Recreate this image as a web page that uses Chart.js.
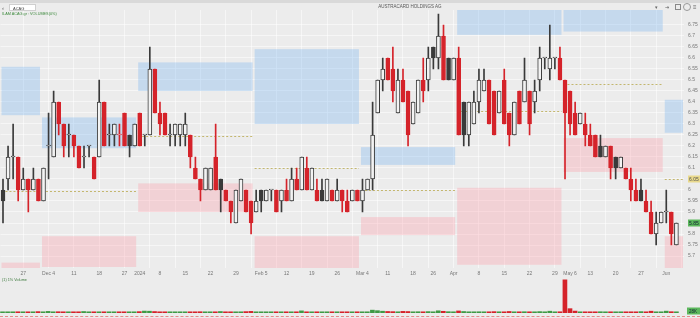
<!DOCTYPE html>
<html>
<head>
<meta charset="utf-8">
<script src="https://cdn.jsdelivr.net/npm/chart.js@4.4.1/dist/chart.umd.min.js"></script>
<style>
body{margin:0;width:700px;height:318px;background:#ececec;overflow:hidden;font-family:"Liberation Sans",Arial,sans-serif;position:relative}
canvas{position:absolute;left:0}
#price{top:0}
#vol{top:276px}
.t{position:absolute;white-space:nowrap;line-height:1}
</style>
</head>
<body>
<canvas id="price" width="700" height="280"></canvas>
<canvas id="vol" width="700" height="42"></canvas>

<div class="t" style="top:0;left:0;width:700px;height:3px;background:#d9d9d9"></div>
<div class="t" style="top:5px;left:2px;font-size:6px;color:#555">&lsaquo;</div>
<div class="t" style="top:4px;left:9px;width:27px;height:7px;background:#fff;border:1px solid #cfcfcf;font-size:4px;color:#444;padding:2px 0 0 3px;box-sizing:border-box">ACAG</div>
<div class="t" style="top:5px;left:350px;width:120px;text-align:center;font-size:4.5px;color:#555">AUSTRACARD HOLDINGS AG</div>
<div class="t" style="top:5px;left:655px;font-size:5px;color:#666">&#9662;</div>
<div class="t" style="top:5px;left:665px;font-size:5px;color:#666">&#8677;</div>
<div class="t" style="top:4px;left:675px;width:4px;height:4px;border:1px solid #888"></div>
<div class="t" style="top:3px;left:683px;width:6px;height:6px;border:1px solid #999;border-radius:50%"></div>
<div class="t" style="top:4px;left:693px;font-size:6px;color:#666">&#8801;</div>
<div class="t" style="top:13px;left:2px;font-size:3.8px;color:#3d8a3d">ILAM ACAG.gr : VOLUMES(0%)</div>
<div class="t" style="top:279px;left:2px;font-size:3.8px;color:#3d7a3d">(1) 1% Volume</div>
<div class="t" style="top:316px;left:0;width:700px;height:0;border-top:1px dashed #e58a8a"></div>

<script>
// trading days (category axis), last slot is empty
var dates = [
'2023-11-21','2023-11-22','2023-11-23','2023-11-24','2023-11-27','2023-11-28','2023-11-29','2023-11-30','2023-12-01',
'2023-12-04','2023-12-05','2023-12-06','2023-12-07','2023-12-08','2023-12-11','2023-12-12','2023-12-13','2023-12-14','2023-12-15',
'2023-12-18','2023-12-19','2023-12-20','2023-12-21','2023-12-22','2023-12-27','2023-12-28','2023-12-29',
'2024-01-02','2024-01-03','2024-01-04','2024-01-05','2024-01-08','2024-01-09','2024-01-10','2024-01-11','2024-01-12',
'2024-01-15','2024-01-16','2024-01-17','2024-01-18','2024-01-19','2024-01-22','2024-01-23','2024-01-24','2024-01-25','2024-01-26',
'2024-01-29','2024-01-30','2024-01-31','2024-02-01','2024-02-02','2024-02-05','2024-02-06','2024-02-07','2024-02-08','2024-02-09',
'2024-02-12','2024-02-13','2024-02-14','2024-02-15','2024-02-16','2024-02-19','2024-02-20','2024-02-21','2024-02-22','2024-02-23',
'2024-02-26','2024-02-27','2024-02-28','2024-02-29','2024-03-01','2024-03-04','2024-03-05','2024-03-06','2024-03-07','2024-03-08',
'2024-03-11','2024-03-12','2024-03-13','2024-03-14','2024-03-15','2024-03-19','2024-03-20','2024-03-21','2024-03-22',
'2024-03-26','2024-03-27','2024-03-28','2024-03-29','2024-04-01','2024-04-02','2024-04-03','2024-04-04','2024-04-05',
'2024-04-08','2024-04-09','2024-04-10','2024-04-11','2024-04-12','2024-04-15','2024-04-16','2024-04-17','2024-04-18','2024-04-19',
'2024-04-22','2024-04-23','2024-04-24','2024-04-25','2024-04-26','2024-04-29','2024-04-30','2024-05-02',
'2024-05-07','2024-05-08','2024-05-09','2024-05-10','2024-05-13','2024-05-14','2024-05-15','2024-05-16','2024-05-17',
'2024-05-20','2024-05-21','2024-05-22','2024-05-23','2024-05-24','2024-05-27','2024-05-28','2024-05-29','2024-05-30','2024-05-31',
'2024-06-03','2024-06-04','2024-06-05','2024-06-06'
];

var prevCloseBefore = 5.90;
var open = [6.00,6.05,6.15,6.15,6.00,6.05,6.00,6.05,5.95,6.20,6.15,6.40,6.30,6.25,6.25,6.20,6.15,6.20,6.15,6.15,
6.40,6.25,6.25,6.25,6.35,6.25,6.20,6.35,6.25,6.25,6.55,6.35,6.35,6.25,6.25,6.25,6.25,6.25,6.10,6.05,
6.00,6.00,6.15,6.05,6.00,5.95,5.85,5.95,6.00,5.95,5.90,6.00,5.95,6.00,6.00,5.95,6.00,5.95,6.05,6.00,
6.10,6.00,6.00,6.00,5.95,6.00,5.95,6.00,5.95,5.95,6.00,5.95,6.00,6.05,6.35,6.50,6.60,6.55,6.35,6.50,
6.45,6.30,6.35,6.50,6.50,6.65,6.60,6.70,6.60,6.50,6.60,6.40,6.25,6.30,6.40,6.45,6.50,6.45,6.35,6.50,
6.35,6.25,6.45,6.40,6.45,6.40,6.50,6.60,6.55,6.60,6.60,6.50,6.45,6.35,6.30,6.30,6.25,6.25,6.20,6.15,
6.20,6.15,6.10,6.10,6.05,6.00,6.00,5.95,5.90,5.80,5.85,5.90,5.90,5.75];
var high = [6.05,6.20,6.30,6.15,6.10,6.05,6.10,6.05,6.10,6.35,6.45,6.40,6.30,6.30,6.25,6.20,6.20,6.20,6.15,6.50,
6.40,6.30,6.30,6.30,6.35,6.25,6.30,6.35,6.25,6.65,6.55,6.40,6.35,6.30,6.30,6.30,6.35,6.25,6.15,6.05,
6.10,6.10,6.30,6.05,6.00,5.95,6.00,6.05,6.00,5.95,6.00,6.00,6.00,6.00,6.00,6.00,6.05,6.10,6.10,6.15,
6.15,6.10,6.05,6.05,6.05,6.00,6.05,6.00,6.00,6.00,6.00,6.05,6.05,6.40,6.50,6.60,6.60,6.65,6.55,6.55,
6.45,6.40,6.50,6.60,6.65,6.65,6.80,6.75,6.60,6.60,6.65,6.40,6.40,6.45,6.55,6.55,6.50,6.45,6.45,6.55,
6.35,6.40,6.45,6.60,6.45,6.50,6.65,6.60,6.75,6.60,6.65,6.50,6.45,6.40,6.35,6.35,6.30,6.25,6.25,6.20,
6.20,6.15,6.15,6.10,6.10,6.05,6.05,6.00,5.95,5.90,5.90,6.00,5.90,5.85];
var low = [5.85,6.00,6.05,5.95,6.00,5.90,6.00,5.95,5.95,6.05,6.15,6.25,6.15,6.15,6.15,6.10,6.10,6.15,6.05,6.15,
6.20,6.20,6.20,6.20,6.20,6.15,6.20,6.20,6.20,6.25,6.35,6.25,6.25,6.20,6.20,6.20,6.20,6.10,6.05,5.95,
6.00,6.00,6.00,5.90,5.95,5.85,5.85,5.95,5.90,5.80,5.90,5.90,5.95,5.95,5.90,5.90,5.95,5.95,6.00,6.00,
6.00,6.00,5.95,5.95,5.95,5.95,5.95,5.90,5.90,5.95,5.95,5.90,6.00,6.00,6.35,6.45,6.50,6.40,6.35,6.40,
6.20,6.30,6.35,6.40,6.45,6.55,6.55,6.50,6.50,6.50,6.25,6.20,6.20,6.30,6.35,6.45,6.30,6.25,6.35,6.30,
6.20,6.25,6.30,6.40,6.25,6.35,6.45,6.55,6.50,6.55,6.50,6.05,6.25,6.25,6.30,6.20,6.20,6.15,6.15,6.15,
6.05,6.05,6.10,6.05,5.95,5.95,5.95,5.90,5.80,5.75,5.85,5.85,5.75,5.75];
var close = [5.95,6.15,6.15,6.00,6.05,6.00,6.05,5.95,6.10,6.20,6.40,6.30,6.20,6.25,6.20,6.10,6.15,6.20,6.05,6.40,
6.20,6.25,6.30,6.25,6.20,6.20,6.30,6.20,6.25,6.55,6.35,6.30,6.25,6.25,6.30,6.30,6.30,6.15,6.05,6.00,
6.10,6.10,6.00,6.00,5.95,5.90,6.00,6.05,5.90,5.85,5.95,5.95,6.00,6.00,5.90,6.00,5.95,6.05,6.00,6.15,
6.00,6.10,5.95,5.95,6.05,5.95,6.00,5.95,5.90,6.00,5.95,6.00,6.05,6.25,6.50,6.55,6.50,6.45,6.50,6.40,
6.25,6.40,6.50,6.45,6.60,6.60,6.70,6.50,6.50,6.60,6.25,6.25,6.40,6.40,6.50,6.50,6.30,6.25,6.45,6.30,
6.25,6.40,6.30,6.50,6.30,6.45,6.60,6.60,6.60,6.60,6.50,6.35,6.30,6.25,6.35,6.25,6.20,6.15,6.15,6.20,
6.10,6.10,6.15,6.05,6.00,5.95,5.95,5.90,5.80,5.85,5.90,5.90,5.80,5.85];
// volume in thousands
var volume = [28,35,22,40,31,26,33,45,38,52,30,41,27,36,24,33,48,29,37,26,
31,22,35,28,19,25,30,44,62,58,47,35,29,33,26,31,38,27,34,41,
29,36,25,48,31,27,33,39,45,52,28,24,30,21,26,33,29,37,25,68,
35,28,31,24,27,22,29,26,33,38,30,34,27,92,75,58,49,44,39,52,
47,36,41,33,45,38,71,55,42,37,66,48,35,31,40,33,37,44,39,35,
49,32,38,41,36,29,45,33,58,31,40,1070,140,62,35,38,29,33,41,27,
36,30,25,34,39,31,45,33,58,37,26,60,42,28];

// monthly zones: first/last slot, upper (blue) band, lower (pink) band, mid line
var zoneStart = [0, 8, 27, 50, 71, 90, 111, 131];
var zoneEnd   = [7, 26, 49, 70, 89, 110, 130, 134];
var blueHi = [6.56, 6.33, 6.58, 6.64, 6.195, 6.85, 6.85, 6.41];
var blueLo = [6.34, 6.19, 6.45, 6.30, 6.114, 6.705, 6.72, 6.26];
var pinkHi = [5.67, 5.79, 6.03, 5.79, 5.877, 6.01, 6.236, 5.79];
var pinkLo = [5.60, 5.65, 5.90, 5.645, 5.795, 5.66, 6.082, 5.645];
var midLine = [5.995, 5.995, 6.245, 6.1, 6.0, 6.36, 6.48, 6.05];

var tickIdx = [4, 9, 14, 19, 24, 27, 31, 36, 41, 46, 51, 56, 61, 66, 71, 76, 81, 85, 89, 94, 99, 104, 109, 112, 116, 121, 126, 131];
var tickText = ['27','Dec 4','11','18','27','2024','8','15','22','29','Feb 5','12','19','26','Mar 4','11','18','26','Apr','8','15','22','29','May 6','13','20','27','Jun'];

var RED = '#d5232a', DARK = '#3a3a3a', HOLLOW = '#f3f3f3';
var lineColor = [], bodyFill = [];
for (var i = 0; i < close.length; i++) {
    var prev = i > 0 ? close[i - 1] : prevCloseBefore;
    var c = close[i] >= prev - 1e-9 ? DARK : RED;
    lineColor.push(c);
    bodyFill.push(close[i] < open[i] ? c : HOLLOW);
}

var gridCol = 'rgba(255,255,255,0.55)';
var tickFont = {family: '"Liberation Sans", Arial, sans-serif', size: 5};

var zones = {
    id: 'zones',
    beforeDatasetsDraw: function(chart) {
        var ctx = chart.ctx, a = chart.chartArea, x = chart.scales.x, y = chart.scales.y;
        var half = (x.getPixelForValue(1) - x.getPixelForValue(0)) / 2;
        ctx.save();
        ctx.beginPath();
        ctx.rect(a.left, a.top, a.right - a.left, a.bottom - a.top);
        ctx.clip();
        for (var k = 0; k < zoneStart.length; k++) {
            var x0 = x.getPixelForValue(zoneStart[k]) - half + 1;
            var x1 = Math.min(x.getPixelForValue(zoneEnd[k]) + half - 1, a.right - 1);
            ctx.fillStyle = 'rgba(150,195,240,0.45)';
            ctx.fillRect(x0, y.getPixelForValue(blueHi[k]), x1 - x0, y.getPixelForValue(blueLo[k]) - y.getPixelForValue(blueHi[k]));
            ctx.fillStyle = 'rgba(250,170,180,0.4)';
            ctx.fillRect(x0, y.getPixelForValue(pinkHi[k]), x1 - x0, y.getPixelForValue(pinkLo[k]) - y.getPixelForValue(pinkHi[k]));
            var ym = Math.round(y.getPixelForValue(midLine[k])) + 0.5;
            ctx.strokeStyle = '#b9a94e';
            ctx.lineWidth = 0.8;
            ctx.setLineDash([2, 2]);
            ctx.beginPath();
            ctx.moveTo(x0, ym);
            ctx.lineTo(x1, ym);
            ctx.stroke();
        }
        ctx.restore();
    },
    afterDraw: function(chart) {
        var ctx = chart.ctx, a = chart.chartArea, y = chart.scales.y;
        function tag(v, bg, fg) {
            var py = y.getPixelForValue(v);
            ctx.fillStyle = bg;
            ctx.fillRect(a.right + 4, py - 3.5, 12, 7);
            ctx.fillStyle = fg;
            ctx.font = '5px "Liberation Sans", Arial, sans-serif';
            ctx.textBaseline = 'middle';
            ctx.fillText(v.toFixed(2), a.right + 5, py + 0.3);
        }
        tag(midLine[midLine.length - 1], '#e9d98c', '#555');
        tag(close[close.length - 1], '#5cb85c', '#123');
    }
};

new Chart(document.getElementById('price'), {
    type: 'bar',
    data: {
        labels: dates,
        datasets: [{
            label: 'body',
            data: open.map(function(o, i) { return [o, close[i]]; }),
            backgroundColor: bodyFill,
            borderColor: lineColor,
            borderWidth: 1,
            borderSkipped: false,
            barThickness: 4,
            minBarLength: 1,
            grouped: false,
            order: 0
        }, {
            label: 'wick',
            data: low.map(function(l, i) { return [l, high[i]]; }),
            backgroundColor: lineColor,
            borderWidth: 0,
            barThickness: 1,
            grouped: false,
            order: 1
        }]
    },
    options: {
        responsive: false,
        animation: false,
        layout: {padding: {top: 10, left: 0, right: 0, bottom: 0}},
        plugins: {legend: {display: false}, tooltip: {enabled: false}},
        scales: {
            x: {
                offset: true,
                grid: {
                    offset: false, drawTicks: false,
                    color: function(c) { return c.index % 5 === 4 ? gridCol : 'rgba(0,0,0,0)'; }
                },
                border: {display: false},
                ticks: {
                    autoSkip: false, maxRotation: 0, padding: 3, color: '#777', font: tickFont,
                    callback: function(v, i) { var k = tickIdx.indexOf(i); return k < 0 ? '' : tickText[k]; }
                },
                afterFit: function(s) { s.height = 12; }
            },
            y: {
                position: 'right',
                min: 5.6455,
                max: 6.818,
                grid: {color: gridCol, drawTicks: false},
                border: {display: false},
                ticks: {
                    stepSize: 0.05, includeBounds: false, padding: 4, color: '#777', font: tickFont,
                    callback: function(v) {
                        if (v > 6.77 || v < 5.67) return null;
                        return String(Math.round(v * 100) / 100);
                    }
                },
                afterFit: function(s) { s.width = 16; }
            }
        }
    },
    plugins: [zones]
});

var volTag = {
    id: 'volTag',
    afterDraw: function(chart) {
        var ctx = chart.ctx, a = chart.chartArea, y = chart.scales.y;
        var v = volume[volume.length - 1];
        var py = Math.min(y.getPixelForValue(v * 1000), a.bottom - 2);
        ctx.fillStyle = '#5cb85c';
        ctx.fillRect(a.right + 3, py - 3.5, 13, 7);
        ctx.fillStyle = '#123';
        ctx.font = '4.5px "Liberation Sans", Arial, sans-serif';
        ctx.textBaseline = 'middle';
        ctx.fillText(v + 'K', a.right + 5, py + 0.3);
    }
};

new Chart(document.getElementById('vol'), {
    type: 'bar',
    data: {
        labels: dates,
        datasets: [{
            label: 'Volume',
            data: volume.map(function(v) { return v * 1000; }),
            backgroundColor: lineColor.map(function(c) { return c === RED ? RED : '#3f9a45'; }),
            barThickness: 4,
            minBarLength: 1.2
        }]
    },
    options: {
        responsive: false,
        animation: false,
        layout: {padding: {top: 3, bottom: 5, left: 0, right: 0}},
        plugins: {legend: {display: false}, tooltip: {enabled: false}},
        scales: {
            x: {display: false, offset: true},
            y: {
                position: 'right',
                min: 0,
                max: 1097000,
                grid: {color: gridCol, drawTicks: false},
                border: {display: false},
                ticks: {
                    stepSize: 500000, padding: 4, color: '#777', font: tickFont,
                    callback: function(v) {
                        if (v === 1000000) return '1M';
                        if (v === 500000) return '500K';
                        return null;
                    }
                },
                afterFit: function(s) { s.width = 16; }
            }
        }
    },
    plugins: [volTag]
});
</script>
</body>
</html>
